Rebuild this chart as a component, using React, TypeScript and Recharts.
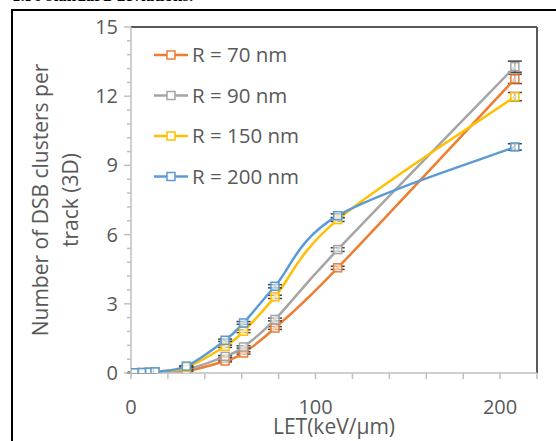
import React from 'react';
import { LineChart, Line, XAxis, YAxis, ErrorBar, ReferenceLine } from 'recharts';

// ---- data ----
const letValues = [2, 6, 10, 13, 30, 51, 61, 78, 112, 208];
const r70 = [0.01, 0.01, 0.02, 0.03, 0.09, 0.52, 0.87, 1.95, 4.56, 12.75];
const r90 = [0.01, 0.02, 0.03, 0.04, 0.15, 0.72, 1.13, 2.32, 5.35, 13.28];
const r150 = [0.01, 0.02, 0.03, 0.05, 0.25, 1.16, 1.81, 3.3, 6.65, 11.98];
const r200 = [0.01, 0.02, 0.03, 0.05, 0.3, 1.42, 2.17, 3.76, 6.82, 9.8];
const e70 = [0.01, 0.01, 0.01, 0.01, 0.02, 0.04, 0.05, 0.06, 0.07, 0.2];
const e90 = [0.01, 0.01, 0.01, 0.01, 0.02, 0.04, 0.05, 0.06, 0.08, 0.24];
const e150 = [0.01, 0.01, 0.01, 0.01, 0.02, 0.05, 0.06, 0.07, 0.08, 0.18];
const e200 = [0.01, 0.01, 0.01, 0.01, 0.02, 0.05, 0.06, 0.07, 0.08, 0.14];

const seriesKeys = ['r70', 'r90', 'r150', 'r200'];
const seriesNames = ['R = 70 nm', 'R = 90 nm', 'R = 150 nm', 'R = 200 nm'];
const seriesColors = ['#ED7D31', '#A5A5A5', '#FFC000', '#5B9BD5'];
const seriesValues = [r70, r90, r150, r200];
const seriesErrors = [e70, e90, e150, e200];

const xTicks = [0, 20, 40, 60, 80, 100, 120, 140, 160, 180, 200, 220];
const xTickLabels = [0, 100, 200];
const yTicks = [0, 0.6, 1.2, 1.8, 2.4, 3, 3.6, 4.2, 4.8, 5.4, 6, 6.6, 7.2, 7.8, 8.4, 9, 9.6, 10.2, 10.8, 11.4, 12, 12.6, 13.2, 13.8, 14.4, 15];
const yTickLabels = [0, 3, 6, 9, 12, 15];

const xTitle = 'LET(keV/μm)';
const yTitleLines = ['Number of DSB clusters per', 'track (3D)'];
const captionText = '1.96 standard deviations.';

const data = letValues.map((x, i) => {
  const row: any = { let: x };
  seriesKeys.forEach((k, s) => {
    row[k] = seriesValues[s][i];
    row[k + 'e'] = seriesErrors[s][i];
  });
  return row;
});

const FONT = '"Open Sans", sans-serif';
const TEXT = '#595959';

// Excel-like smoothed line (Catmull-Rom as cubic Bezier)
const excelSmooth = (context: any) => {
  let pts: number[][] = [];
  return {
    areaStart() {},
    areaEnd() {},
    lineStart() {
      pts = [];
    },
    point(x: number, y: number) {
      pts.push([+x, +y]);
    },
    lineEnd() {
      if (!pts.length) return;
      context.moveTo(pts[0][0], pts[0][1]);
      for (let i = 0; i < pts.length - 1; i++) {
        const p0 = pts[i - 1] || pts[i];
        const p1 = pts[i];
        const p2 = pts[i + 1];
        const p3 = pts[i + 2] || p2;
        context.bezierCurveTo(
          p1[0] + (p2[0] - p0[0]) / 6,
          p1[1] + (p2[1] - p0[1]) / 6,
          p2[0] - (p3[0] - p1[0]) / 6,
          p2[1] - (p3[1] - p1[1]) / 6,
          p2[0],
          p2[1]
        );
      }
    },
  };
};

const XTick = (props: any) => {
  const { x, y, payload } = props;
  const show = xTickLabels.some((v) => Math.abs(v - payload.value) < 1e-6);
  return (
    <g>
      <line x1={x} x2={x} y1={y} y2={y + 6} stroke="#BFBFBF" strokeWidth={1.5} />
      {show && (
        <text x={x} y={y + 41} textAnchor="middle" fontSize={20} fill={TEXT} fontFamily={FONT}>
          {payload.value}
        </text>
      )}
    </g>
  );
};

const YTick = (props: any) => {
  const { x, y, payload } = props;
  const show = yTickLabels.some((v) => Math.abs(v - payload.value) < 1e-6);
  return (
    <g>
      <line x1={x - (show ? 7 : 4)} x2={x} y1={y} y2={y} stroke="#BFBFBF" strokeWidth={1.5} />
      {show && (
        <text x={x - 13} y={y + 7} textAnchor="end" fontSize={20} fill={TEXT} fontFamily={FONT}>
          {payload.value}
        </text>
      )}
    </g>
  );
};

const makeDot = (color: string) => (props: any) => {
  const { cx, cy, index } = props;
  if (cx == null || cy == null) return <g key={index} />;
  return (
    <rect key={index} x={cx - 4} y={cy - 4} width={8} height={8} fill="#ffffff" fillOpacity={0.6} stroke={color} strokeWidth={1.5} />
  );
};

export default function App() {
  return (
    <div style={{ position: 'absolute', left: 0, top: 0, width: 556, height: 441, overflow: 'hidden', background: '#fff' }}>
      <div
        style={{
          position: 'absolute',
          left: 12,
          top: -14,
          fontFamily: '"Liberation Serif", serif',
          fontSize: 17,
          fontWeight: 'bold',
          color: '#000',
          whiteSpace: 'nowrap',
          lineHeight: '20px',
        }}
      >
        {captionText}
      </div>
      <div
        style={{
          position: 'absolute',
          left: 11,
          top: 9,
          width: 600,
          height: 500,
          borderLeft: '2px solid #000',
          borderTop: '2px solid #000',
        }}
      />
      <div style={{ position: 'absolute', left: 0, top: 0 }}>
        <LineChart width={556} height={441} data={data} margin={{ top: 27, right: 19, bottom: 0, left: 0 }}>
          <XAxis
            dataKey="let"
            type="number"
            domain={[0, 220]}
            ticks={xTicks}
            interval={0}
            tick={<XTick />}
            tickLine={false}
            tickSize={0}
            tickMargin={0}
            axisLine={{ stroke: '#BFBFBF', strokeWidth: 1.5 }}
            height={68}
            allowDataOverflow
          />
          <YAxis
            type="number"
            domain={[0, 15]}
            ticks={yTicks}
            interval={0}
            tick={<YTick />}
            tickLine={false}
            tickSize={0}
            tickMargin={0}
            axisLine={{ stroke: '#BFBFBF', strokeWidth: 1.5 }}
            width={131}
            allowDataOverflow
          />
          <ReferenceLine y={15} stroke="#595959" strokeWidth={2} ifOverflow="extendDomain" />
          <ReferenceLine x={220} stroke="#595959" strokeWidth={2} ifOverflow="extendDomain" />
          {seriesKeys.map((k, s) => (
            <Line
              key={k}
              dataKey={k}
              name={seriesNames[s]}
              type={excelSmooth as any}
              stroke={seriesColors[s]}
              strokeWidth={2.5}
              dot={makeDot(seriesColors[s])}
              activeDot={false}
              isAnimationActive={false}
            >
              <ErrorBar dataKey={k + 'e'} direction="y" width={7} stroke="#404040" strokeWidth={1.5} />
            </Line>
          ))}
        </LineChart>
      </div>
      {/* axis titles */}
      <svg width={556} height={441} style={{ position: 'absolute', left: 0, top: 0, pointerEvents: 'none' }}>
        <text x={334} y={434} textAnchor="middle" fontSize={21} fill={TEXT} fontFamily={FONT}>
          {xTitle}
        </text>
        {yTitleLines.map((t, i) => (
          <text
            key={i}
            x={0}
            y={0}
            transform={`translate(${48 + i * 30}, 200) rotate(-90)`}
            textAnchor="middle"
            fontSize={21}
            fill={TEXT}
            fontFamily={FONT}
          >
            {t}
          </text>
        ))}
        {/* legend */}
        {seriesNames.map((n, i) => {
          const cy = 55 + i * 40.5;
          return (
            <g key={n}>
              <line x1={154} x2={188} y1={cy} y2={cy} stroke={seriesColors[i]} strokeWidth={2.5} />
              <rect x={167} y={cy - 4} width={8} height={8} fill="#fff" stroke={seriesColors[i]} strokeWidth={1.5} />
              <text x={192} y={cy + 7} fontSize={20.5} fill={TEXT} fontFamily={FONT}>
                {n}
              </text>
            </g>
          );
        })}
      </svg>
    </div>
  );
}
